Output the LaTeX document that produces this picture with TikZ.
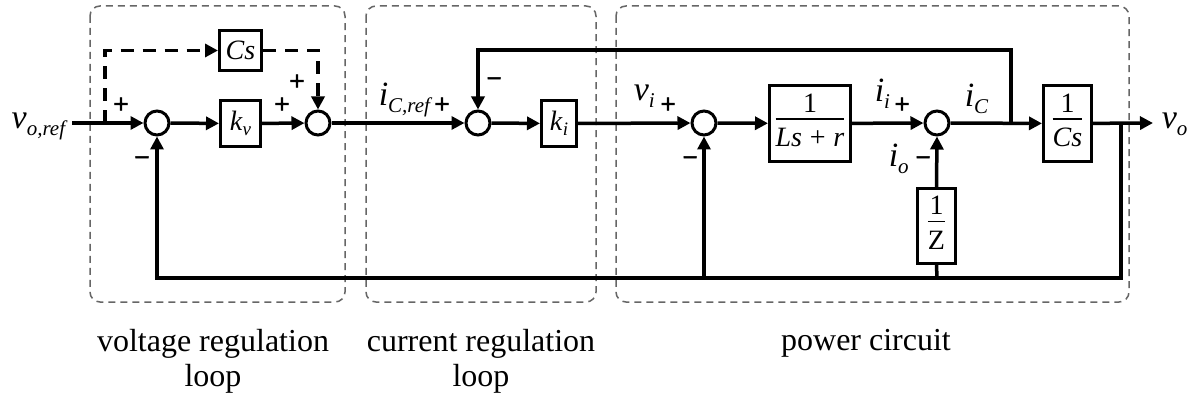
\documentclass[tikz,border=0pt]{standalone}
\usepackage{fontspec}
\setmainfont{Liberation Serif}
\newfontfamily\signfont[FakeBold=2.5]{DejaVu Sans}
\usetikzlibrary{arrows.meta}
\newcommand\lbl[2]{\fontsize{34}{36}\selectfont\textit{#1}\raisebox{-7pt}{\fontsize{21}{22}\selectfont\textit{#2}}}
\newcommand\blbl[2]{\fontsize{28}{30}\selectfont\textit{#1}\raisebox{-5pt}{\fontsize{19}{20}\selectfont\textit{#2}}}
\newcommand\frc[2]{\fontsize{28}{30}\selectfont\setlength\arrayrulewidth{1.5pt}\begin{tabular}{@{}c@{}}#1\\[-3pt]\hline\rule{0pt}{27pt}#2\end{tabular}}
\begin{document}
\begin{tikzpicture}[x=1pt,y=-1pt,line width=3.5pt,
  sum/.style={circle,draw,line width=3pt,minimum size=24pt,inner sep=0pt},
  blk/.style={draw,line width=3pt,inner sep=0pt},
  arr/.style={-{Triangle[length=13pt,width=13pt]}},
  dsh/.style={dash pattern=on 13pt off 9pt},
  sgn/.style={font=\signfont\fontsize{20}{20}\selectfont,inner sep=0pt},
  grp/.style={draw=black!60,line width=1.5pt,dash pattern=on 7pt off 5pt,rounded corners=10pt},
  txt/.style={inner sep=0pt,anchor=base west},
  captxt/.style={inner sep=0pt,font=\fontsize{32}{35}\selectfont,align=center}]
\useasboundingbox (0,0) rectangle (1192,398);
% group boxes
\draw[grp] (90,6) rectangle (345,302);
\draw[grp] (366,6) rectangle (596,302);
\draw[grp] (616,6) rectangle (1129,302);
% blocks
\node[sum] (s1) at (157,123) {};
\node[sum] (s2) at (318,123) {};
\node[sum] (s3) at (478,123) {};
\node[sum] (s4) at (704,123) {};
\node[sum] (s5) at (937,123) {};
\node[blk,minimum width=40pt,minimum height=46pt] (kv) at (240.5,123.5) {\blbl{k}{v}};
\node[blk,minimum width=42pt,minimum height=40pt,font=\fontsize{28}{30}\selectfont] (cs) at (240.5,50.5) {\textit{Cs}};
\node[blk,minimum width=35pt,minimum height=46pt] (ki) at (559,123.5) {\blbl{k}{i}};
\node[blk,minimum width=81pt,minimum height=76pt] (ls) at (810,123.5) {\frc{1}{\textit{Ls}\;+\;\textit{r}}};
\node[blk,minimum width=48pt,minimum height=76pt] (c2) at (1067.5,123.5) {\frc{1}{\textit{Cs}}};
\node[blk,minimum width=38pt,minimum height=75pt] (z) at (936.5,226) {\frc{1}{Z}};
% coordinates
\coordinate (in) at (72,123);
\coordinate (tap) at (105,123);
\coordinate (fbT) at (1011,123);
\coordinate (fbTop) at (1011,50);
\coordinate (out) at (1153,123);
\coordinate (fbR) at (1121,123);
\coordinate (bR) at (1121,278);
\coordinate (bL) at (157,278);
\coordinate (b4) at (704,278);
\coordinate (bZ) at (937,278);
% connectors
\draw[arr] (in) -- (s1);
\draw[arr] (s1) -- (kv);
\draw[arr] (kv) -- (s2);
\draw[arr] (s2) -- (s3);
\draw[arr] (s3) -- (ki);
\draw[arr] (ki) -- (s4);
\draw[arr] (s4) -- (ls);
\draw[arr] (ls) -- (s5);
\draw[arr] (s5) -- (c2);
\draw[arr] (c2) -- (out);
\draw[arr,dsh] (tap) |- (cs.west);
\draw[arr,dsh] (cs.east) -| (s2.north);
\draw[arr] (fbT) -- (fbTop) -| (s3.north);
\draw[arr] (fbR) -- (bR) -- (bL) -- (s1.south);
\draw[arr] (b4) -- (s4.south);
\draw (bZ) -- (z.south);
\draw[arr] (z.north) -- (s5.south);
% signs
\node[sgn] (p1) at (121,104) {+};
\node[sgn] (m1) at (142,160) {−};
\node[sgn] (p2) at (282,104) {+};
\node[sgn] (p3) at (297,81) {+};
\node[sgn] (p4) at (442,104) {+};
\node[sgn] (m2) at (494,81) {−};
\node[sgn] (p5) at (668,104) {+};
\node[sgn] (m3) at (690,160) {−};
\node[sgn] (p6) at (902,104) {+};
\node[sgn] (m4) at (923,160) {−};
% signal labels
\node[txt] (lvref) at (10,129) {\lbl{v}{o,ref}};
\node[txt] (licref) at (377,106) {\lbl{i}{C,ref}};
\node[txt] (lvi) at (632,101) {\lbl{v}{i}};
\node[txt] (lii) at (873,102) {\lbl{i}{i}};
\node[txt] (lic) at (963,107) {\lbl{i}{C}};
\node[txt] (lio) at (887,167) {\lbl{i}{o}};
\node[txt] (lvo) at (1160,129) {\lbl{v}{o}};
% captions
\node[captxt,anchor=north] (c1) at (213,328) {voltage regulation\\loop};
\node[captxt,anchor=north] (c2cap) at (481,328) {current regulation\\loop};
\node[captxt,anchor=base] (c3) at (866,350) {power circuit};
\end{tikzpicture}
\end{document}
